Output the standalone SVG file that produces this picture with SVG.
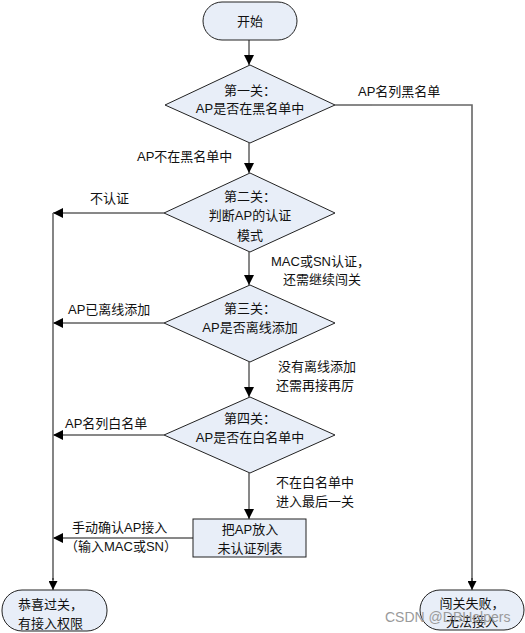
<svg xmlns="http://www.w3.org/2000/svg" width="525" height="633" viewBox="0 0 525 633">
<style>
.shape{fill:#E8EEF8;stroke:#222;stroke-width:1}
text{font-family:"Liberation Sans","Noto Sans CJK SC",sans-serif;font-size:13px;fill:#111}
.c{text-anchor:middle}
.ln{fill:none;stroke:#111;stroke-width:1}
.gl{fill:none;stroke:#666;stroke-width:1.6}
.wm{fill:#9a9a9a;font-size:14px}
</style>
<defs>
<marker id="ah" viewBox="0 0 10 10" refX="10" refY="5" markerWidth="10" markerHeight="10" markerUnits="userSpaceOnUse" orient="auto">
<path d="M0,0 L10,5 L0,10 z" fill="#000"/>
</marker>
<marker id="ah2" viewBox="0 0 10 10" refX="10" refY="5" markerWidth="9" markerHeight="9" markerUnits="userSpaceOnUse" orient="auto">
<path d="M0,0 L10,5 L0,10 z" fill="#000"/>
</marker>
</defs>
<rect width="525" height="633" fill="#fff"/>
<g id="connectors">
<line class="ln" x1="249" y1="40" x2="249" y2="65" marker-end="url(#ah)"/>
<line class="ln" x1="249" y1="143" x2="249" y2="173" marker-end="url(#ah)"/>
<line class="ln" x1="249" y1="252" x2="249" y2="285" marker-end="url(#ah)"/>
<line class="ln" x1="249" y1="362" x2="249" y2="397" marker-end="url(#ah)"/>
<line class="ln" x1="249" y1="473" x2="249" y2="519" marker-end="url(#ah)"/>
<line class="ln" x1="164" y1="213" x2="53" y2="213" marker-end="url(#ah)"/>
<line class="ln" x1="164" y1="323" x2="53" y2="323" marker-end="url(#ah)"/>
<line class="ln" x1="164" y1="435" x2="53" y2="435" marker-end="url(#ah)"/>
<line class="ln" x1="193" y1="538" x2="53" y2="538" marker-end="url(#ah)"/>
<path class="gl" d="M53,213 V580"/>
<line class="ln" x1="53" y1="578" x2="53" y2="590" marker-end="url(#ah2)"/>
<path class="ln" d="M335,105 H372"/>
<path class="gl" d="M372,105 H472 V582"/>
<line class="ln" x1="472" y1="578" x2="472" y2="590" marker-end="url(#ah2)"/>
<text x="358" y="96">AP名列黑名单</text>
<text x="137" y="161">AP不在黑名单中</text>
<text x="90" y="203">不认证</text>
<text x="271" y="266">MAC或SN认证，</text>
<text x="283" y="284">还需继续闯关</text>
<text x="68" y="314">AP已离线添加</text>
<text x="278" y="371">没有离线添加</text>
<text x="276" y="390">还需再接再厉</text>
<text x="65" y="428">AP名列白名单</text>
<text x="276" y="487">不在白名单中</text>
<text x="276" y="506">进入最后一关</text>
<text x="72" y="532">手动确认AP接入</text>
<text x="65" y="551">（输入MAC或SN）</text>
</g>
<g id="start">
<rect class="shape" x="203" y="2" width="94" height="38" rx="19"/>
<text class="c" x="250" y="26">开始</text>
</g>
<g id="gate1">
<polygon class="shape" points="250,65 335,105 250,143 165,105"/>
<text class="c" x="250" y="95">第一关：</text>
<text class="c" x="250" y="113">AP是否在黑名单中</text>
</g>
<g id="gate2">
<polygon class="shape" points="250,173 335,213 250,252 164,213"/>
<text class="c" x="250" y="201">第二关：</text>
<text class="c" x="250" y="220">判断AP的认证</text>
<text class="c" x="250" y="240">模式</text>
</g>
<g id="gate3">
<polygon class="shape" points="250,285 335,323 250,362 164,323"/>
<text class="c" x="250" y="313">第三关：</text>
<text class="c" x="250" y="332">AP是否离线添加</text>
</g>
<g id="gate4">
<polygon class="shape" points="250,397 335,435 250,473 164,435"/>
<text class="c" x="250" y="423">第四关：</text>
<text class="c" x="250" y="442">AP是否在白名单中</text>
</g>
<g id="pending">
<rect class="shape" x="193" y="519" width="113" height="38"/>
<text class="c" x="250" y="534">把AP放入</text>
<text class="c" x="250" y="553">未认证列表</text>
</g>
<g id="pass">
<rect class="shape" x="2" y="590" width="105" height="41" rx="20"/>
<text x="18" y="609">恭喜过关，</text>
<text x="18" y="628">有接入权限</text>
</g>
<g id="fail">
<rect class="shape" x="420" y="590" width="104" height="40" rx="20"/>
<text class="c" x="472" y="608">闯关失败，</text>
<text class="c" x="472" y="626">无法接入</text>
</g>
<text class="wm" x="385" y="622">CSDN @DBHelpers</text>
</svg>
